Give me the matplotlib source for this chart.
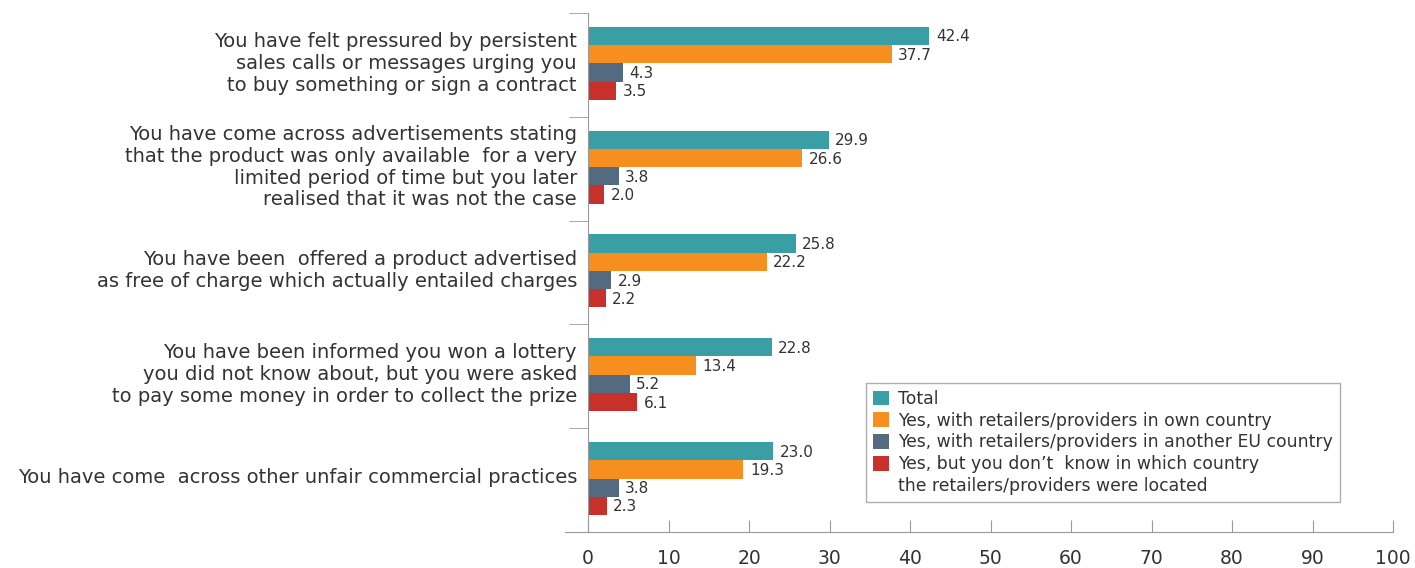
import numpy as np
import matplotlib
matplotlib.use("Agg")
import matplotlib.pyplot as plt
import matplotlib.transforms as mtransforms
from matplotlib.patches import Patch

# ---------------------------------------------------------
# Data
# ---------------------------------------------------------
categories = [
    "You have felt pressured by persistent\nsales calls or messages urging you\nto buy something or sign a contract",
    "You have come across advertisements stating\nthat the product was only available  for a very\nlimited period of time but you later\nrealised that it was not the case",
    "You have been  offered a product advertised\nas free of charge which actually entailed charges",
    "You have been informed you won a lottery\nyou did not know about, but you were asked\nto pay some money in order to collect the prize",
    "You have come  across other unfair commercial practices",
]
total = [42.4, 29.9, 25.8, 22.8, 23.0]
own_country = [37.7, 26.6, 22.2, 13.4, 19.3]
other_eu = [4.3, 3.8, 2.9, 5.2, 3.8]
unknown = [3.5, 2.0, 2.2, 6.1, 2.3]

series_labels = [
    "Total",
    "Yes, with retailers/providers in own country",
    "Yes, with retailers/providers in another EU country",
    "Yes, but you don\u2019t  know in which country",
]
colors = ["#3a9fa4", "#f68f1f", "#546a80", "#c8302b"]
text_color = "#333333"
axis_color = "#9a9a9a"

plt.rcParams["font.family"] = "DejaVu Sans"

# ---------------------------------------------------------
# Plot
# ---------------------------------------------------------
fig = plt.figure(figsize=(14.15, 5.68), dpi=100)
ax = fig.add_axes([0.3993, 0.0634, 0.5852, 0.9137])

y = np.arange(len(categories))
h = 0.176
offsets = [-1.5 * h, -0.5 * h, 0.5 * h, 1.5 * h]

for vals, off, col in zip([total, own_country, other_eu, unknown], offsets, colors):
    bars = ax.barh(y + off - 0.015, vals, height=h, color=col, linewidth=0)
    for b, v in zip(bars, vals):
        ax.text(v + 0.8, b.get_y() + b.get_height() / 2 + 0.01, f"{v:.1f}",
                va="center", ha="left", fontsize=11, color=text_color)

ax.set_xlim(-2.86, 100)
ax.set_ylim(len(categories) - 0.5, -0.5)

# spines
for s in ["top", "right"]:
    ax.spines[s].set_visible(False)
ax.spines["left"].set_position(("data", 0))
ax.spines["left"].set_color(axis_color)
ax.spines["bottom"].set_color(axis_color)

# x axis
ax.set_xticks(np.arange(0, 101, 10))
ax.tick_params(axis="x", direction="in", length=8.6, color=axis_color,
               labelsize=13.5, labelcolor=text_color, pad=12)

# y axis: labels at group centres, marks at group boundaries
ax.set_yticks(y)
ax.set_yticklabels(categories, fontsize=14, color=text_color, linespacing=1.19)
ax.tick_params(axis="y", which="major", length=0, pad=8)
ax.set_yticks(np.arange(-0.5, len(categories), 1), minor=True)
ax.tick_params(axis="y", which="minor", direction="out", length=14, color=axis_color)

# nudge the category labels up a little
shift = mtransforms.ScaledTranslation(0, 5 / 100, fig.dpi_scale_trans)
for lbl in ax.get_yticklabels():
    lbl.set_transform(lbl.get_transform() + shift)

# legend
handles = [Patch(facecolor=c, edgecolor="none") for c in colors]
handles.append(Patch(facecolor="none", edgecolor="none"))
labels = series_labels + ["the retailers/providers were located"]
leg = fig.legend(handles, labels, loc="upper left",
                 bbox_to_anchor=(866 / 1415, 1 - 383 / 568),
                 fontsize=12.4, frameon=True, fancybox=False,
                 handlelength=0.95, handleheight=0.95, handletextpad=0.5,
                 labelspacing=0.22, borderpad=0.4, borderaxespad=0)
leg.get_frame().set_edgecolor(axis_color)
leg.get_frame().set_linewidth(1.0)
for t in leg.get_texts():
    t.set_color(text_color)

fig.savefig("out.png", dpi=100)
